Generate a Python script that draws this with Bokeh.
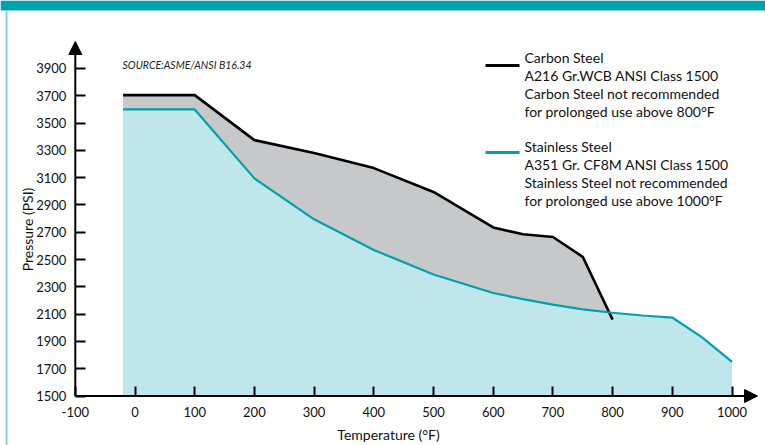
from bokeh.plotting import figure
from bokeh.models import Range1d, FixedTicker, Arrow, NormalHead, Label, BoxAnnotation
from bokeh.embed import file_html
from bokeh.resources import INLINE

# ---- data ----
carbon_temp = [-20, 100, 200, 300, 400, 500, 600, 650, 700, 750, 800]
carbon_psi = [3705, 3705, 3375, 3280, 3170, 2995, 2735, 2685, 2665, 2520, 2060]
stainless_temp = [-20, 100, 200, 300, 400, 500, 600, 650, 700, 750, 800, 850, 900, 950, 1000]
stainless_psi = [3600, 3600, 3095, 2795, 2570, 2390, 2255, 2210, 2170, 2135, 2110, 2090, 2075, 1930, 1750]
x_ticks = [-100, 0, 100, 200, 300, 400, 500, 600, 700, 800, 900, 1000]
y_ticks = [1500, 1700, 1900, 2100, 2300, 2500, 2700, 2900, 3100, 3300, 3500, 3700, 3900]
carbon_legend = ["Carbon Steel", "A216 Gr.WCB ANSI Class 1500",
                 "Carbon Steel not recommended", "for prolonged use above 800°F"]
stainless_legend = ["Stainless Steel", "A351 Gr. CF8M ANSI Class 1500",
                    "Stainless Steel not recommended", "for prolonged use above 1000°F"]
source_text = "SOURCE:ASME/ANSI B16.34"
x_title = "Temperature (°F)"
y_title = "Pressure (PSI)"

# ---- layout: the plotting frame covers the whole canvas ----
W, H = 765, 445
PX_X = 0.597      # px per degF
PX_Y = 0.13646    # px per psi
X0, Y0 = -100, 1500
AX_X, AX_Y = 74.8, 395.5   # page position of the axes corner


def dx(page_x):
    return X0 + (page_x - AX_X) / PX_X


def dy(page_y):
    return Y0 + (AX_Y - page_y) / PX_Y


FONT = "Lato"
TEAL = "#00a0ad"
TEAL_FILL = "#bfe6ea"
GRAY_FILL = "#c7c8ca"
TXT = "#111111"

p = figure(width=W, height=H, output_backend="svg", toolbar_location=None,
           x_range=Range1d(dx(0), dx(W)), y_range=Range1d(dy(H), dy(0)),
           min_border=0, min_border_left=0, min_border_right=0,
           min_border_top=0, min_border_bottom=0)
p.outline_line_color = None
p.grid.visible = False
p.background_fill_color = "white"
p.border_fill_color = "white"

# areas and lines
p.varea(x=carbon_temp, y1=[Y0] * len(carbon_temp), y2=carbon_psi, fill_color=GRAY_FILL)
p.varea(x=stainless_temp, y1=[Y0] * len(stainless_temp), y2=stainless_psi, fill_color=TEAL_FILL)
p.line(carbon_temp, carbon_psi, line_color="black", line_width=2.6)
p.line(stainless_temp, stainless_psi, line_color=TEAL, line_width=2.2)

# axes, pinned at the corner so they take no border space
p.xaxis.fixed_location = Y0
p.yaxis.fixed_location = X0
for ax, ticks in ((p.xaxis[0], x_ticks), (p.yaxis[0], y_ticks)):
    ax.ticker = FixedTicker(ticks=ticks)
    ax.axis_line_color = None
    ax.major_tick_in = 10
    ax.major_tick_out = 0
    ax.major_tick_line_width = 2
    ax.major_tick_line_color = "black"
    ax.minor_tick_line_color = None
    ax.major_label_text_font = FONT
    ax.major_label_text_font_size = "13px"
    ax.major_label_text_color = TXT
p.xaxis.major_label_overrides = {-100: "-100"}
p.xaxis.major_label_standoff = 11
p.yaxis.major_label_standoff = 9

# axis lines with arrow heads
p.add_layout(Arrow(end=NormalHead(size=13, fill_color="black", line_color="black"),
                   x_start=X0, y_start=Y0, x_end=X0, y_end=dy(41),
                   line_width=2, line_color="black"))
p.add_layout(Arrow(end=NormalHead(size=13, fill_color="black", line_color="black"),
                   x_start=X0, y_start=Y0, x_end=dx(757), y_end=Y0,
                   line_width=2, line_color="black"))

# axis titles
p.add_layout(Label(x=dx(388), y=dy(434), text=x_title, text_font=FONT,
                   text_font_size="14px", text_align="center", text_baseline="middle",
                   text_color=TXT))
p.add_layout(Label(x=dx(27), y=dy(229), text=y_title, text_font=FONT, angle=1.5708,
                   text_font_size="14px", text_align="center", text_baseline="middle",
                   text_color=TXT))

# source note
p.add_layout(Label(x=dx(122), y=dy(64), text=source_text, text_font=FONT,
                   text_font_style="italic", text_font_size="10.5px",
                   text_baseline="middle", text_color="#222222"))

# legend samples and texts
p.line(x=[dx(485), dx(519)], y=[dy(65), dy(65)], line_color="black", line_width=3)
p.line(x=[dx(485), dx(519)], y=[dy(152), dy(152)], line_color=TEAL, line_width=3)
for i, t in enumerate(carbon_legend):
    p.add_layout(Label(x=dx(524), y=dy(57 + 18 * i), text=t, text_font=FONT,
                       text_font_size="14px", text_baseline="middle", text_color=TXT))
for i, t in enumerate(stainless_legend):
    p.add_layout(Label(x=dx(524), y=dy(146 + 18 * i), text=t, text_font=FONT,
                       text_font_size="14px", text_baseline="middle", text_color=TXT))

# page decorations: top band and left border
p.add_layout(BoxAnnotation(left=dx(0), right=dx(W), top=dy(0), bottom=dy(10),
                           fill_color="#00a2b0", fill_alpha=1, line_color=None))
p.add_layout(BoxAnnotation(left=dx(5), right=dx(7), top=dy(10), bottom=dy(H),
                           fill_color="#86d2da", fill_alpha=1, line_color=None))

open("out.html", "w").write(file_html(p, INLINE))
